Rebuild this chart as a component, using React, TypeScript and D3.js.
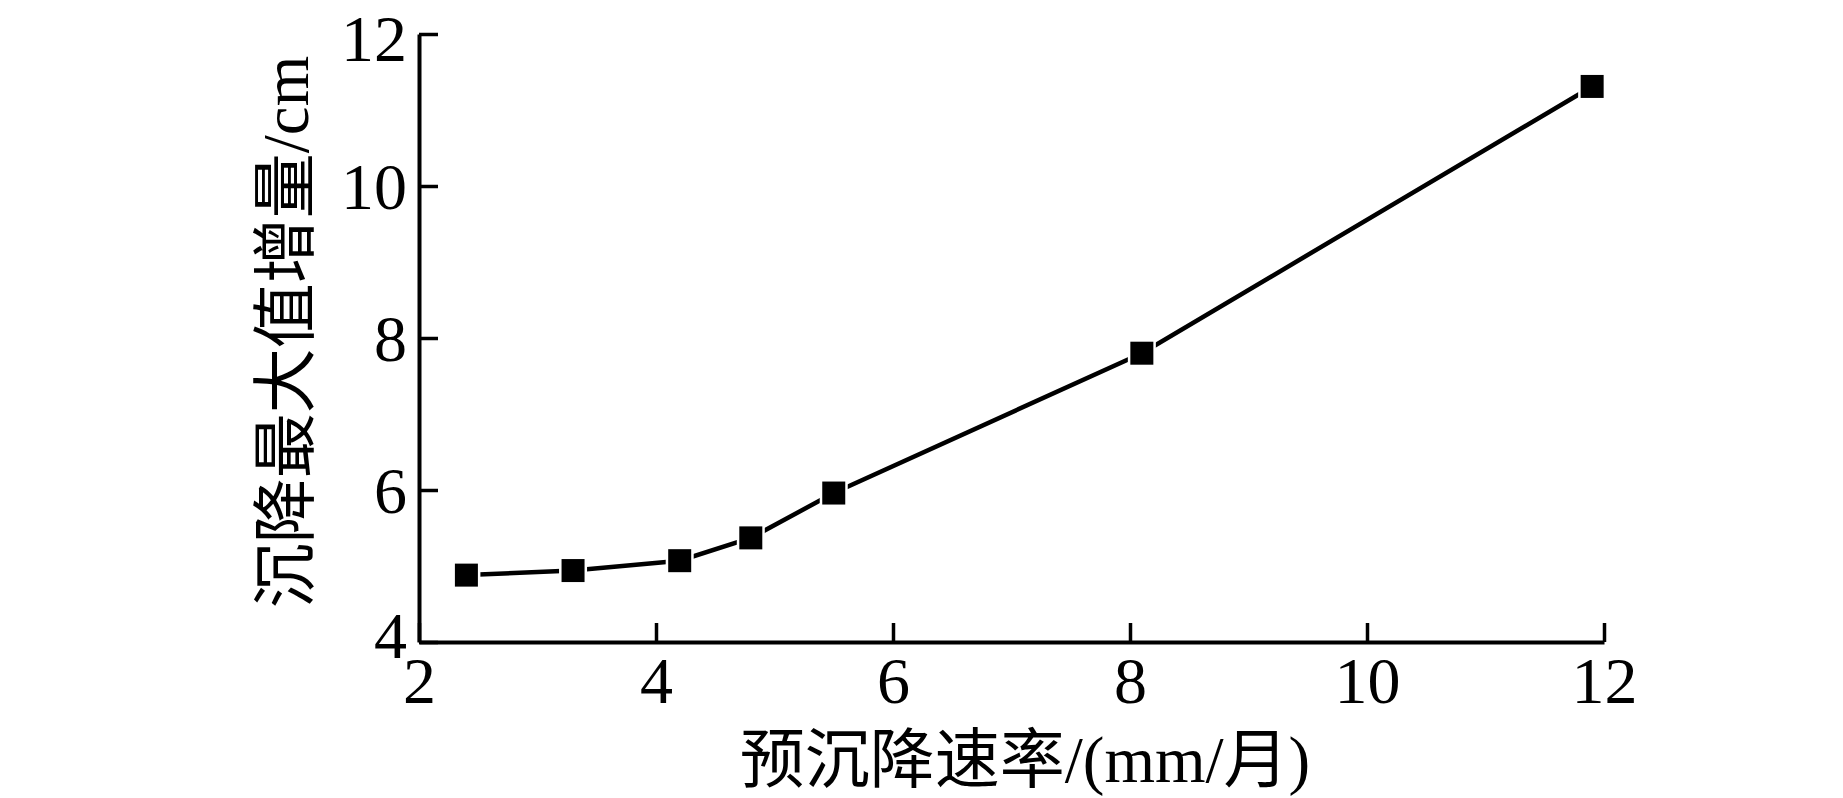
import React, { useEffect, useRef } from 'react';
import * as d3 from 'd3';

const rates = [2.4, 3.3, 4.2, 4.8, 5.5, 8.1, 11.9];
const increments = [4.88, 4.94, 5.07, 5.37, 5.96, 7.8, 11.31];
const xTicks = [2, 4, 6, 8, 10, 12];
const yTicks = [4, 6, 8, 10, 12];
const xTitle = '预沉降速率/(mm/月)';
const yTitle = '沉降最大值增量/cm';

const App = () => {
  const svgRef = useRef<SVGSVGElement | null>(null);

  useEffect(() => {
    const width = 1843;
    const height = 798;
    const svg = d3.select(svgRef.current);
    svg.selectAll('*').remove();
    svg.attr('width', width).attr('height', height);

    const x = d3.scaleLinear().domain([2, 12]).range([419, 1604]);
    const y = d3.scaleLinear().domain([4, 12]).range([642, 34]);
    const font = "'Liberation Serif', 'Times New Roman', 'Noto Sans CJK SC', serif";

    // x axis, ticks point inward
    const xAxis = svg.append('g')
      .attr('transform', `translate(0,${y(4)})`)
      .call(d3.axisBottom(x).tickValues(xTicks).tickSize(-19).tickSizeOuter(0).tickPadding(0).tickFormat(d3.format('d')));
    xAxis.select('.domain').attr('stroke', '#000').attr('stroke-width', 4);
    xAxis.selectAll('.tick line').attr('stroke', '#000').attr('stroke-width', 3.5);
    xAxis.selectAll('.tick text')
      .attr('fill', '#000')
      .attr('font-family', font)
      .attr('font-size', 66)
      .attr('dy', null)
      .attr('y', 61);

    const yAxis = svg.append('g')
      .attr('transform', `translate(${x(2)},0)`)
      .call(d3.axisLeft(y).tickValues(yTicks).tickSize(-19).tickSizeOuter(0).tickPadding(12).tickFormat(d3.format('d')));
    yAxis.select('.domain').attr('stroke', '#000').attr('stroke-width', 4);
    yAxis.selectAll('.tick line').attr('stroke', '#000').attr('stroke-width', 3.5);
    yAxis.selectAll('.tick text')
      .attr('fill', '#000')
      .attr('font-family', font)
      .attr('font-size', 66)
      .attr('dy', null)
      .attr('y', (d: any) => (d === 4 ? 15 : d === 12 ? 26 : 22));

    const pts = rates.map((r, i) => ({ r, v: increments[i] }));

    const line = d3.line<{ r: number; v: number }>()
      .x(d => x(d.r))
      .y(d => y(d.v));

    svg.append('path')
      .datum(pts)
      .attr('fill', 'none')
      .attr('stroke', '#000')
      .attr('stroke-width', 4.5)
      .attr('d', line);

    const s = 25.5;
    svg.append('g')
      .selectAll('rect')
      .data(pts)
      .join('rect')
      .attr('x', d => x(d.r) - s / 2)
      .attr('y', d => y(d.v) - s / 2)
      .attr('width', s)
      .attr('height', s)
      .attr('fill', '#000')
      .attr('stroke', '#fff')
      .attr('stroke-width', 2.5);

    svg.append('text')
      .attr('x', 1025)
      .attr('y', 782)
      .attr('text-anchor', 'middle')
      .attr('font-family', font)
      .attr('font-size', 65)
      .attr('fill', '#000')
      .text(xTitle);

    svg.append('text')
      .attr('transform', 'translate(308,332) rotate(-90)')
      .attr('text-anchor', 'middle')
      .attr('font-family', font)
      .attr('font-size', 65)
      .attr('fill', '#000')
      .text(yTitle);
  }, []);

  return (
    <div style={{ position: 'absolute', left: 0, top: 0, background: '#fff' }}>
      <svg ref={svgRef} style={{ display: 'block' }}></svg>
    </div>
  );
};

export default App;
